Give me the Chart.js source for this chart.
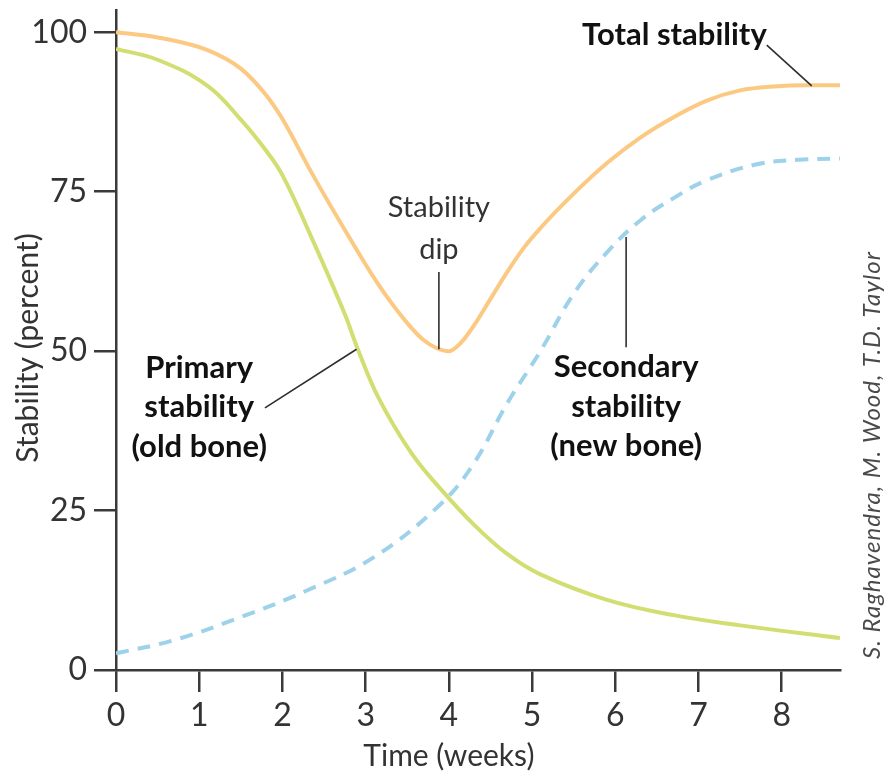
<!DOCTYPE html>
<html>
<head>
<meta charset="utf-8">
<title>Stability (percent) vs Time (weeks)</title>
<script src="https://cdn.jsdelivr.net/npm/chart.js@4.4.0/dist/chart.umd.min.js"></script>
<style>
    html, body { margin: 0; padding: 0; background: #ffffff; }
    #wrap { width: 886px; height: 773px; }
</style>
</head>
<body>
<div id="wrap"><canvas id="chart" width="886" height="773"></canvas></div>
<script>
// Values (x = weeks, y = percent)
const totalWeeks  = [0, 0.5, 1.1, 1.5, 1.8, 2.0, 2.35, 2.75, 3.15, 3.5, 3.7, 3.85, 4.0, 4.15, 4.3, 4.5, 4.7, 4.9, 5.1, 5.5, 5.9, 6.3, 6.7, 7.1, 7.5, 7.9, 8.3, 8.7];
const totalValues = [100, 99.2, 97.2, 94.3, 90.2, 86.4, 78, 69, 60.5, 54.4, 51.7, 50.5, 50.0, 51.4, 54.0, 58.2, 62.4, 66.2, 69.3, 74.7, 79.5, 83.5, 86.7, 89.3, 90.9, 91.5, 91.7, 91.7];

const primaryWeeks  = [0, 0.5, 1.1, 1.5, 1.8, 2.0, 2.35, 2.75, 2.9, 3.15, 3.55, 3.9, 4.3, 4.7, 5.1, 5.9, 6.7, 7.5, 8.7];
const primaryValues = [97.4, 95.7, 91.6, 86.3, 81.5, 77.6, 67.8, 55.8, 50.5, 42.8, 34.0, 28.4, 22.8, 18.2, 15.0, 11, 8.6, 7, 5];

const secondaryWeeks  = [0, 0.7, 1.5, 2.3, 3.1, 3.9, 4.3, 4.7, 5.1, 5.5, 5.9, 6.3, 6.7, 7.1, 7.7, 8.2, 8.7];
const secondaryValues = [2.6, 4.7, 8.3, 12.5, 17.7, 26, 32.4, 41.8, 50, 59, 65.5, 70.5, 74, 76.8, 79.3, 80, 80.2];

const xTicks = [0, 1, 2, 3, 4, 5, 6, 7, 8];
const yTicks = [0, 25, 50, 75, 100];

// Colours
const colors = {
    total: '#fcc983',
    primary: '#d3de72',
    secondary: '#9dd2ea',
    axis: '#3a3a3a',
    text: '#333333',
    label: '#111111'
};

const FONT = 'Lato, "Open Sans", sans-serif';

// Callouts (in data units)
const callouts = [
    { lines: ['Total stability'], x: 6.71, y: 98, bold: true },
    { lines: ['Stability', 'dip'], x: 3.88, y: 71, bold: false },
    { lines: ['Primary', 'stability', '(old bone)'], x: 1.0, y: 45.8, bold: true },
    { lines: ['Secondary', 'stability', '(new bone)'], x: 6.13, y: 45.9, bold: true }
];
const leaders = [
    [7.82, 98, 8.36, 91.6],
    [3.88, 62.4, 3.88, 50.3],
    [1.79, 41.1, 2.89, 50.3],
    [6.13, 67.9, 6.13, 50.6]
];

function toPoints(xs, ys) {
    return xs.map((v, i) => ({ x: v, y: ys[i] }));
}

// Draws callouts, axis titles and the credit line
const annotationsPlugin = {
    id: 'annotations',
    afterDraw(chart) {
        const { ctx, chartArea } = chart;
        const xs = chart.scales.x;
        const ys = chart.scales.y;
        ctx.save();

        ctx.strokeStyle = '#2e2e2e';
        ctx.lineWidth = 1.6;
        leaders.forEach(l => {
            ctx.beginPath();
            ctx.moveTo(xs.getPixelForValue(l[0]), ys.getPixelForValue(l[1]));
            ctx.lineTo(xs.getPixelForValue(l[2]), ys.getPixelForValue(l[3]));
            ctx.stroke();
        });

        ctx.textAlign = 'center';
        ctx.textBaseline = 'alphabetic';
        callouts.forEach(c => {
            ctx.font = c.bold ? `bold 31px ${FONT}` : `29px ${FONT}`;
            ctx.fillStyle = c.bold ? colors.label : colors.text;
            const px = xs.getPixelForValue(c.x);
            const py = ys.getPixelForValue(c.y);
            const lh = c.bold ? 39.5 : 42;
            c.lines.forEach((t, i) => ctx.fillText(t, px, py + i * lh));
        });

        // axis titles
        ctx.fillStyle = colors.text;
        ctx.font = `30px ${FONT}`;
        ctx.textBaseline = 'middle';
        ctx.fillText('Time (weeks)', xs.getPixelForValue(4), chartArea.bottom + 86);

        ctx.save();
        ctx.translate(chartArea.left - 88, 348);
        ctx.rotate(-Math.PI / 2);
        ctx.fillText('Stability (percent)', 0, 0);
        ctx.restore();

        // credit
        ctx.save();
        ctx.translate(chartArea.right + 32, 455);
        ctx.rotate(-Math.PI / 2);
        ctx.font = `italic 24px ${FONT}`;
        ctx.letterSpacing = '1px';
        ctx.fillStyle = '#4a4a4a';
        ctx.fillText('S. Raghavendra, M. Wood, T.D. Taylor', 0, 0);
        ctx.restore();

        ctx.restore();
    }
};

const axisGrid = {
    drawOnChartArea: false,
    drawTicks: true,
    tickLength: 22,
    color: colors.axis,
    lineWidth: 2.5
};

new Chart(document.getElementById('chart'), {
    type: 'line',
    data: {
        datasets: [
            {
                label: 'Secondary stability (new bone)',
                data: toPoints(secondaryWeeks, secondaryValues),
                borderColor: colors.secondary,
                borderWidth: 4,
                borderDash: [13, 9],
                pointRadius: 0,
                tension: 0.4
            },
            {
                label: 'Primary stability (old bone)',
                data: toPoints(primaryWeeks, primaryValues),
                borderColor: colors.primary,
                borderWidth: 4,
                pointRadius: 0,
                tension: 0.4
            },
            {
                label: 'Total stability',
                data: toPoints(totalWeeks, totalValues),
                borderColor: colors.total,
                borderWidth: 4,
                pointRadius: 0,
                cubicInterpolationMode: 'monotone'
            }
        ]
    },
    options: {
        responsive: false,
        animation: false,
        devicePixelRatio: 1,
        layout: { padding: { top: 10, right: 46, left: 0, bottom: 0 } },
        plugins: {
            legend: { display: false },
            tooltip: { enabled: false }
        },
        scales: {
            x: {
                type: 'linear',
                min: 0,
                max: 8.7,
                afterBuildTicks: s => { s.ticks = xTicks.map(v => ({ value: v })); },
                afterFit: s => {
                    s.height = 103;
                    s.paddingLeft = 0;
                    s.paddingRight = 0;
                },
                ticks: {
                    font: { family: FONT, size: 32 },
                    color: colors.text,
                    padding: 4,
                    maxRotation: 0,
                    autoSkip: false
                },
                grid: axisGrid,
                border: { color: colors.axis, width: 2.5 }
            },
            y: {
                type: 'linear',
                min: 0,
                max: 103.5,
                afterBuildTicks: s => { s.ticks = yTicks.map(v => ({ value: v })); },
                afterFit: s => {
                    s.width = 116;
                    s.paddingTop = 0;
                    s.paddingBottom = 0;
                },
                ticks: {
                    font: { family: FONT, size: 32 },
                    color: colors.text,
                    padding: 7
                },
                grid: axisGrid,
                border: { color: colors.axis, width: 2.5 }
            }
        }
    },
    plugins: [annotationsPlugin]
});
</script>
</body>
</html>
